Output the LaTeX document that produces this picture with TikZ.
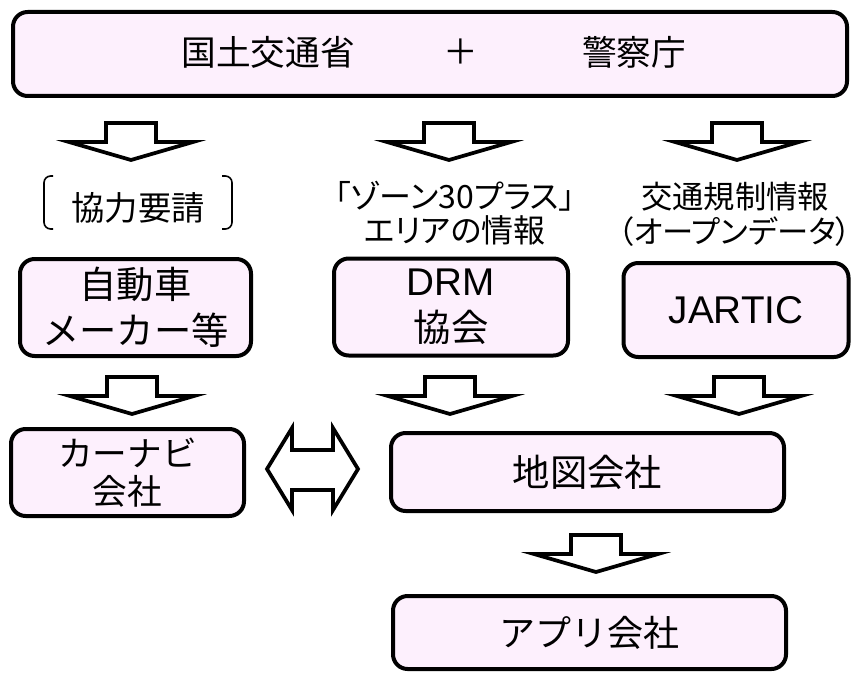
\documentclass[tikz,border=0pt]{standalone}
\usepackage{fontspec}
\newfontfamily\jp{Noto Sans CJK JP}
\newfontfamily\jpp[RawFeature=+palt]{Noto Sans CJK JP}
\newfontfamily\lat{Liberation Sans}
\definecolor{boxpink}{RGB}{253,240,253}
\begin{document}
\begin{tikzpicture}[x=0.75pt,y=-0.75pt,
  box/.style={draw=black, line width=3pt, rounded corners=11pt, fill=boxpink, align=center, inner sep=0pt},
  blockarrow/.style={draw=black, line width=2.8pt, line join=miter, fill=white},
  txt/.style={inner sep=0pt, align=center, font=\jpp\fontsize{24pt}{25.5pt}\selectfont},
  boxtxt/.style={font=\jp\fontsize{28pt}{34.5pt}\selectfont},
  darrow/.pic={\draw[blockarrow] (-25,0) -- (25,0) -- (25,19) -- (62,19) -- (0,37) -- (-62,19) -- (-25,19) -- cycle;}
]
\useasboundingbox (0,0) rectangle (855,677);
% top box
\node[box, minimum width=625.5pt, minimum height=63pt] (top) at (430,54) {};
\node[txt, font=\jp\fontsize{26pt}{30pt}\selectfont] (mlit) at (268,52) {国土交通省};
\node[txt, font=\jp\fontsize{26pt}{30pt}\selectfont] (plus) at (461,52) {＋};
\node[txt, font=\jp\fontsize{26pt}{30pt}\selectfont] (npa) at (634,52) {警察庁};
% first row arrows
\pic at (131,123) {darrow};
\pic at (449,123) {darrow};
\pic at (737,123) {darrow};
% labels
\node[txt, font=\jp\fontsize{25pt}{28pt}\selectfont] (req) at (138,208) {協力要請};
\draw[line width=1.2pt, rounded corners=5pt] (53,176) -- (44,176) -- (44,229) -- (53,229);
\draw[line width=1.2pt, rounded corners=5pt] (222,176) -- (232,176) -- (232,229) -- (222,229);
\node[txt] (zone) at (455,213) {「ゾーン30プラス」\\エリアの情報};
\node[txt, font=\jpp\fontsize{23.5pt}{26pt}\selectfont] (reg) at (735,214) {交通規制情報\\（オープンデータ）};
% second row boxes
\node[box, boxtxt, minimum width=173.25pt, minimum height=72.75pt] (maker) at (135.5,307.5) {自動車\\メーカー等};
\node[box, boxtxt, minimum width=175.5pt, minimum height=72.75pt] (drm) at (451,307) {{\lat\fontsize{29pt}{30pt}\selectfont DRM}\\協会};
\node[box, minimum width=168.75pt, minimum height=70.5pt, font=\lat\fontsize{29pt}{30pt}\selectfont] (jartic) at (736,310) {JARTIC};
% second row arrows
\pic at (132,377) {darrow};
\pic at (450,377) {darrow};
\pic at (739,377) {darrow};
% third row
\node[box, minimum width=174.75pt, minimum height=65.25pt, font=\jp\fontsize{26pt}{29pt}\selectfont] (navi) at (127.5,472.5) {カーナビ\\会社};
\node[box, minimum width=294.75pt, minimum height=58.5pt, font=\jp\fontsize{28pt}{30pt}\selectfont] (map) at (587.5,472) {地図会社};
\draw[blockarrow] (267,469) -- (292,428) -- (292,450) -- (333,450) -- (333,428) -- (358,469)
  -- (333,510) -- (333,490) -- (292,490) -- (292,510) -- cycle;
% bottom
\pic at (596,535) {darrow};
\node[box, minimum width=294.75pt, minimum height=54.75pt, font=\jp\fontsize{27pt}{30pt}\selectfont] (app) at (589.5,632.5) {アプリ会社};
\end{tikzpicture}
\end{document}
